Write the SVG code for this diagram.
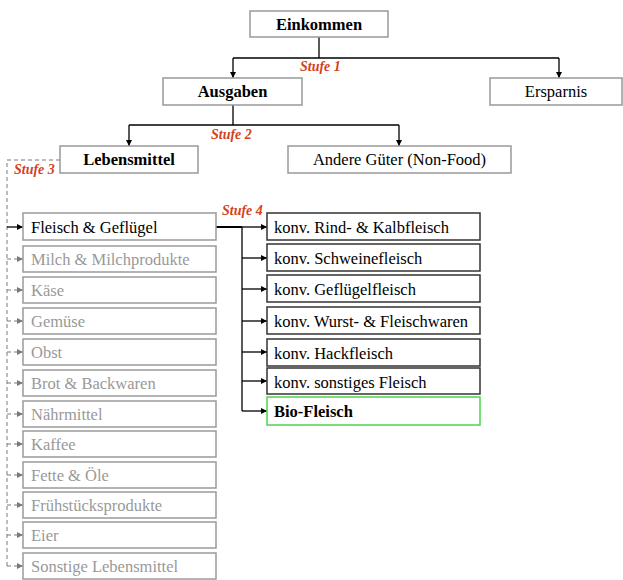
<svg xmlns="http://www.w3.org/2000/svg" width="623" height="580" viewBox="0 0 623 580">
  <defs>
    <marker id="ah" viewBox="0 0 10 10" refX="10" refY="5" markerWidth="6" markerHeight="6" markerUnits="userSpaceOnUse" orient="auto">
      <path d="M0,0 L10,5 L0,10 z" fill="#000"/>
    </marker>
    <marker id="ahg" viewBox="0 0 10 10" refX="10" refY="5" markerWidth="6" markerHeight="6" markerUnits="userSpaceOnUse" orient="auto">
      <path d="M0,0 L10,5 L0,10 z" fill="#7a7a7a"/>
    </marker>
    <style>
      text { font-family: "Liberation Serif", "Times New Roman", serif; font-size: 16.5px; }
      .top rect { fill: #fff; stroke: #999; stroke-width: 1.5; }
      .cat rect { fill: #fff; stroke: #9a9a9a; stroke-width: 1.5; }
      .cat text { fill: #999; }
      .sub rect { fill: #fff; stroke: #333; stroke-width: 1.5; }
      .bold { font-weight: bold; }
      .mid { text-anchor: middle; }
      .stufe { fill: #d4421a; font-weight: bold; font-style: italic; font-size: 14px; }
      .ln { fill: none; stroke: #000; stroke-width: 1.3; }
      .dash { fill: none; stroke: #7a7a7a; stroke-width: 1; stroke-dasharray: 4 3; }
    </style>
  </defs>

  <!-- connectors -->
  <g id="connectors">
    <polyline class="ln" points="319,37 319,58"/>
    <polyline class="ln" points="233,58 559,58"/>
    <line class="ln" x1="233" y1="58" x2="233" y2="78" marker-end="url(#ah)"/>
    <line class="ln" x1="559" y1="58" x2="559" y2="78" marker-end="url(#ah)"/>

    <polyline class="ln" points="233,105 233,125"/>
    <polyline class="ln" points="129,125 399,125"/>
    <line class="ln" x1="129" y1="125" x2="129" y2="146" marker-end="url(#ah)"/>
    <line class="ln" x1="399" y1="125" x2="399" y2="146" marker-end="url(#ah)"/>

    <!-- Stufe 3: Lebensmittel to categories -->
    <polyline class="dash" points="60,160 7,160 7,566"/>
    <line class="ln" x1="7" y1="227" x2="23" y2="227" marker-end="url(#ah)"/>
    <line class="dash" x1="7" y1="259" x2="23" y2="259" marker-end="url(#ahg)"/>
    <line class="dash" x1="7" y1="290" x2="23" y2="290" marker-end="url(#ahg)"/>
    <line class="dash" x1="7" y1="321" x2="23" y2="321" marker-end="url(#ahg)"/>
    <line class="dash" x1="7" y1="352" x2="23" y2="352" marker-end="url(#ahg)"/>
    <line class="dash" x1="7" y1="383" x2="23" y2="383" marker-end="url(#ahg)"/>
    <line class="dash" x1="7" y1="414" x2="23" y2="414" marker-end="url(#ahg)"/>
    <line class="dash" x1="7" y1="444" x2="23" y2="444" marker-end="url(#ahg)"/>
    <line class="dash" x1="7" y1="475" x2="23" y2="475" marker-end="url(#ahg)"/>
    <line class="dash" x1="7" y1="505" x2="23" y2="505" marker-end="url(#ahg)"/>
    <line class="dash" x1="7" y1="535" x2="23" y2="535" marker-end="url(#ahg)"/>
    <line class="dash" x1="7" y1="566" x2="23" y2="566" marker-end="url(#ahg)"/>

    <!-- Stufe 4: Fleisch & Geflügel to meat types -->
    <line x1="216" y1="227" x2="242" y2="227" stroke="#000" stroke-width="2"/>
    <polyline class="ln" points="242,227 242,411"/>
    <line class="ln" x1="242" y1="227" x2="267" y2="227" marker-end="url(#ah)"/>
    <line class="ln" x1="242" y1="258" x2="267" y2="258" marker-end="url(#ah)"/>
    <line class="ln" x1="242" y1="289" x2="267" y2="289" marker-end="url(#ah)"/>
    <line class="ln" x1="242" y1="321" x2="267" y2="321" marker-end="url(#ah)"/>
    <line class="ln" x1="242" y1="352" x2="267" y2="352" marker-end="url(#ah)"/>
    <line class="ln" x1="242" y1="381" x2="267" y2="381" marker-end="url(#ah)"/>
    <line class="ln" x1="242" y1="411" x2="267" y2="411" marker-end="url(#ah)"/>
  </g>

  <!-- level labels -->
  <text class="stufe" x="300" y="71">Stufe 1</text>
  <text class="stufe" x="211" y="139">Stufe 2</text>
  <text class="stufe" x="14" y="174">Stufe 3</text>
  <text class="stufe" x="222" y="215">Stufe 4</text>

  <!-- upper levels -->
  <g id="einkommen" class="top"><rect x="250" y="11" width="138" height="26"/><text class="bold mid" x="319" y="30">Einkommen</text></g>
  <g id="ausgaben" class="top"><rect x="163" y="78" width="139" height="27"/><text class="bold mid" x="232.5" y="97">Ausgaben</text></g>
  <g id="ersparnis" class="top"><rect x="490" y="78" width="132" height="27"/><text class="mid" x="556" y="97">Ersparnis</text></g>
  <g id="lebensmittel" class="top"><rect x="60" y="146" width="138" height="27"/><text class="bold mid" x="129" y="165">Lebensmittel</text></g>
  <g id="andere-gueter" class="top"><rect x="288" y="146" width="223" height="27"/><text class="mid" x="399.5" y="165">Andere Güter (Non-Food)</text></g>

  <!-- food categories -->
  <g id="fleisch-gefluegel" class="cat"><rect x="23" y="213" width="193" height="27"/><text x="31" y="233" style="fill:#000">Fleisch &amp; Geflügel</text></g>
  <g id="milch" class="cat"><rect x="23" y="246" width="193" height="26"/><text x="31" y="265">Milch &amp; Milchprodukte</text></g>
  <g id="kaese" class="cat"><rect x="23" y="277" width="193" height="26"/><text x="31" y="296">Käse</text></g>
  <g id="gemuese" class="cat"><rect x="23" y="308" width="193" height="26"/><text x="31" y="327">Gemüse</text></g>
  <g id="obst" class="cat"><rect x="23" y="339" width="193" height="26"/><text x="31" y="358">Obst</text></g>
  <g id="brot" class="cat"><rect x="23" y="370" width="193" height="26"/><text x="31" y="389">Brot &amp; Backwaren</text></g>
  <g id="naehrmittel" class="cat"><rect x="23" y="401" width="193" height="26"/><text x="31" y="420">Nährmittel</text></g>
  <g id="kaffee" class="cat"><rect x="23" y="431" width="193" height="26"/><text x="31" y="450">Kaffee</text></g>
  <g id="fette" class="cat"><rect x="23" y="462" width="193" height="26"/><text x="31" y="481">Fette &amp; Öle</text></g>
  <g id="fruehstueck" class="cat"><rect x="23" y="492" width="193" height="26"/><text x="31" y="511">Frühstücksprodukte</text></g>
  <g id="eier" class="cat"><rect x="23" y="522" width="193" height="26"/><text x="31" y="541">Eier</text></g>
  <g id="sonstige-lm" class="cat"><rect x="23" y="553" width="193" height="26"/><text x="31" y="572">Sonstige Lebensmittel</text></g>

  <!-- meat types -->
  <g id="rind" class="sub"><rect x="267" y="213" width="213" height="27"/><text x="274" y="233">konv. Rind- &amp; Kalbfleisch</text></g>
  <g id="schwein" class="sub"><rect x="267" y="244" width="213" height="27"/><text x="274" y="264">konv. Schweinefleisch</text></g>
  <g id="gefluegel" class="sub"><rect x="267" y="275" width="213" height="27"/><text x="274" y="295">konv. Geflügelfleisch</text></g>
  <g id="wurst" class="sub"><rect x="267" y="307" width="213" height="27"/><text x="274" y="327">konv. Wurst- &amp; Fleischwaren</text></g>
  <g id="hack" class="sub"><rect x="267" y="339" width="213" height="27"/><text x="274" y="359">konv. Hackfleisch</text></g>
  <g id="sonstiges-fleisch" class="sub"><rect x="267" y="368" width="213" height="26"/><text x="274" y="388">konv. sonstiges Fleisch</text></g>
  <g id="bio-fleisch" class="sub"><rect x="267" y="397" width="213" height="28" style="stroke:#4cd44c"/><text class="bold" x="274" y="417">Bio-Fleisch</text></g>
</svg>
